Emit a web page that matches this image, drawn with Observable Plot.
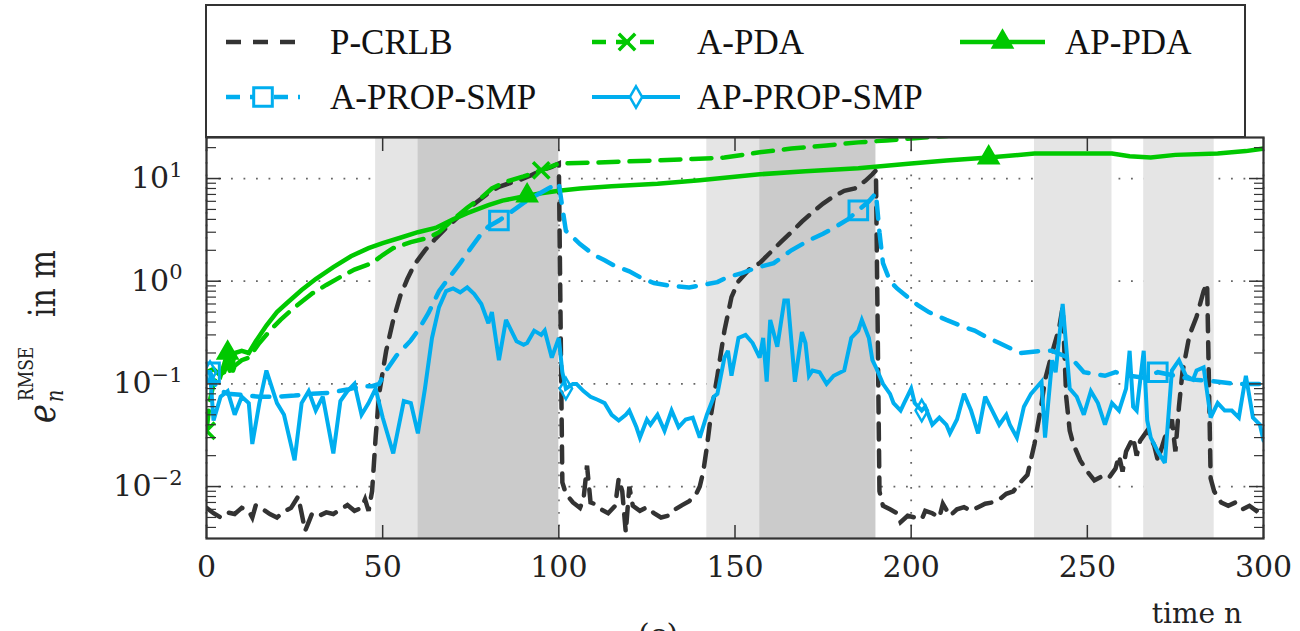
<!DOCTYPE html>
<html>
<head>
<meta charset="utf-8">
<script src="https://cdn.jsdelivr.net/npm/d3@7"></script>
<script src="https://cdn.jsdelivr.net/npm/@observablehq/plot@0.6"></script>
<style>
html,body{margin:0;padding:0;background:#fff;overflow:hidden;}
#chart svg{display:block;}
</style>
</head>
<body>
<div id="chart"></div>
<script>
// ---------- data ----------
const xTicks = [0, 50, 100, 150, 200, 250, 300];
const xTickLabels = ["0", "50", "100", "150", "200", "250", "300"];
const yTicks = [0.01, 0.1, 1, 10];
const yTickLabels = ["10^-2", "10^-1", "10^0", "10^1"];

const bandStart = [48, 60, 142, 157, 235, 266];
const bandEnd   = [60, 100, 157, 190, 257, 286];
const bandShade = ["light", "dark", "light", "dark", "light", "light"];

const seriesNames = ["P-CRLB", "A-PDA", "AP-PDA", "A-PROP-SMP", "AP-PROP-SMP"];

const pCrlb = [[0,0.0062],[2,0.0055],[4,0.0050],[6,0.0056],[8,0.0054],[10,0.0062],[12,0.0058],[13,0.0050],[14,0.0066],[16,0.0060],[18,0.0054],[20,0.0050],[22,0.0057],[24,0.0062],[26,0.0080],[27,0.0055],[28,0.0037],[29,0.0045],[30,0.0055],[32,0.0052],[34,0.0056],[36,0.0054],[38,0.0060],[40,0.0066],[42,0.0058],[44,0.0062],[45,0.0075],[46,0.0058],[47,0.009],[48,0.03],[49,0.08],[50,0.13],[51,0.21],[53,0.42],[55,0.72],[57,1.05],[59,1.45],[62,2.0],[65,2.6],[68,3.3],[71,4.1],[74,5.0],[77,6.0],[80,7.2],[83,8.3],[86,9.0],[89,9.7],[92,10.7],[95,12],[98,13],[100,14],
[101,0.011],[102,0.0085],[104,0.007],[106,0.0062],[107,0.0075],[108,0.016],[109,0.007],[110,0.0068],[112,0.006],[114,0.0055],[116,0.0065],[117,0.012],[118,0.009],[119,0.0036],[120,0.01],[121,0.0065],[123,0.0058],[125,0.0063],[127,0.0055],[129,0.005],[131,0.0052],[133,0.006],[135,0.0066],[137,0.0072],[139,0.0085],[140,0.01],[141,0.014],[142,0.024],[143,0.045],[144,0.075],[145,0.12],[146,0.2],[147,0.33],[149,0.7],[151,1.0],[154,1.3],[157,1.5],[160,1.9],[163,2.4],[166,3.0],[169,3.8],[172,4.7],[175,5.7],[178,6.7],[181,7.6],[184,8.0],[187,9.5],[189,11],[190,12],
[191,0.009],[192,0.0065],[194,0.006],[196,0.0055],[197,0.0045],[199,0.0052],[201,0.005],[203,0.0048],[204,0.0058],[206,0.0055],[208,0.005],[209,0.0068],[211,0.0052],[213,0.006],[215,0.0063],[217,0.0058],[219,0.0063],[221,0.0068],[223,0.007],[225,0.0075],[227,0.0085],[229,0.009],[231,0.011],[233,0.013],[235,0.026],[237,0.064],[238,0.11],[240,0.2],[242,0.35],[243,0.56],[244,0.075],[245,0.035],[246,0.026],[248,0.018],[250,0.014],[252,0.0115],[254,0.0125],[256,0.012],[258,0.015],[259,0.02],[260,0.014],[261,0.022],[263,0.03],[264,0.02],[265,0.028],[267,0.035],[269,0.025],[270,0.018],[272,0.03],[274,0.045],[275,0.022],[276,0.06],[277,0.13],[279,0.3],[281,0.45],[283,0.8],[284,0.95],[285,0.012],[286,0.009],[288,0.007],[290,0.0065],[292,0.007],[294,0.006],[296,0.0065],[298,0.0058],[300,0.0065]];

const aPda = [[0,0.035],[1,0.07],[2,0.1],[3,0.12],[5,0.13],[6,0.16],[7,0.12],[8,0.15],[10,0.17],[12,0.18],[15,0.25],[18,0.33],[21,0.42],[24,0.52],[27,0.63],[30,0.76],[34,0.92],[38,1.1],[42,1.3],[47,1.5],[50,1.8],[53,2.1],[58,2.4],[63,2.65],[66,3.0],[70,4.0],[74,5.2],[78,6.5],[81,8],[85,9.3],[90,10.5],[95,12],[100,14],[110,14.3],[120,14.7],[128,15],[138,15.5],[147,16],[157,18],[166,19.6],[176,21],[185,22.5],[193,23.5],[200,24.5],[210,26],[220,28],[240,30],[270,34],[300,38]];

const apPda = [[0,0.13],[2,0.14],[4,0.12],[6,0.2],[7,0.13],[8,0.2],[10,0.21],[12,0.2],[14,0.26],[17,0.37],[20,0.5],[23,0.62],[27,0.82],[31,1.05],[36,1.37],[41,1.75],[46,2.1],[50,2.35],[55,2.65],[60,3.0],[65,3.3],[70,4.0],[74,4.6],[80,5.5],[84,6.1],[91,6.8],[95,7.2],[100,7.6],[106,8.0],[115,8.4],[128,8.9],[140,9.6],[157,11.0],[170,11.8],[185,12.6],[200,14],[210,15],[222,16],[235,17.5],[245,17.5],[257,17.5],[262,16.5],[268,16],[275,17],[287,17.5],[295,18.5],[300,19.6]];

const aPropSmp = [[0,0.13],[1,0.13],[3,0.09],[6,0.08],[10,0.078],[15,0.075],[20,0.075],[25,0.077],[30,0.08],[35,0.082],[40,0.088],[44,0.095],[47,0.095],[49,0.1],[51,0.135],[54,0.19],[58,0.265],[60,0.33],[63,0.49],[66,0.8],[69,1.1],[72,1.5],[75,2.1],[78,2.9],[80,3.4],[83,3.9],[86,4.6],[90,5.8],[94,7],[97,8],[100,9],[101,5.2],[102,3.1],[106,2.3],[110,1.8],[113,1.6],[116,1.4],[120,1.25],[124,1.05],[127,0.96],[132,0.9],[137,0.87],[141,0.92],[145,0.98],[148,1.1],[152,1.2],[156,1.35],[161,1.5],[166,2.0],[171,2.5],[175,2.9],[178,3.3],[182,4.0],[185,4.9],[188,6.0],[190,7.2],[191,3.0],[192,1.5],[194,1.0],[196,0.85],[199,0.7],[202,0.58],[205,0.5],[210,0.42],[214,0.37],[218,0.33],[221,0.29],[225,0.25],[231,0.2],[237,0.21],[240,0.21],[243,0.19],[246,0.17],[249,0.13],[252,0.125],[255,0.12],[258,0.13],[262,0.12],[266,0.115],[270,0.13],[275,0.12],[280,0.11],[287,0.105],[292,0.1],[297,0.1],[300,0.1]];

const apPropSmp = [[0,0.13],[1,0.13],[2,0.044],[4,0.075],[6,0.085],[8,0.05],[10,0.075],[12,0.065],[13,0.026],[15,0.065],[17,0.135],[20,0.065],[22,0.05],[25,0.018],[27,0.065],[29,0.085],[31,0.055],[33,0.075],[36,0.021],[38,0.068],[40,0.085],[42,0.1],[44,0.05],[46,0.065],[48,0.09],[50,0.047],[53,0.021],[56,0.068],[58,0.065],[60,0.033],[62,0.09],[64,0.28],[66,0.56],[68,0.8],[70,0.85],[72,0.78],[74,0.87],[76,0.75],[78,0.6],[80,0.39],[81,0.5],[83,0.17],[85,0.42],[88,0.26],[90,0.24],[91,0.25],[93,0.33],[95,0.3],[96,0.33],[98,0.18],[100,0.28],[101,0.13],[102,0.09],[104,0.1],[105,0.1],[107,0.085],[109,0.075],[111,0.07],[113,0.065],[115,0.05],[117,0.044],[119,0.05],[120,0.055],[122,0.038],[123,0.03],[125,0.045],[126,0.04],[128,0.05],[130,0.035],[132,0.055],[134,0.038],[136,0.045],[138,0.047],[140,0.03],[142,0.05],[144,0.075],[145,0.08],[147,0.18],[148,0.21],[149,0.12],[151,0.28],[153,0.3],[155,0.25],[157,0.18],[158,0.28],[159,0.105],[160,0.42],[162,0.23],[164,0.65],[165,0.65],[167,0.105],[169,0.32],[170,0.25],[171,0.12],[172,0.135],[174,0.13],[176,0.1],[178,0.12],[181,0.135],[183,0.28],[185,0.33],[186,0.42],[188,0.28],[189,0.17],[190,0.145],[192,0.1],[194,0.08],[195,0.065],[197,0.055],[198,0.065],[200,0.09],[201,0.065],[203,0.055],[204,0.06],[206,0.04],[208,0.047],[210,0.04],[211,0.033],[213,0.045],[215,0.08],[217,0.055],[219,0.033],[221,0.075],[223,0.055],[225,0.04],[227,0.05],[228,0.04],[230,0.03],[232,0.06],[234,0.08],[237,0.105],[238,0.03],[240,0.17],[241,0.13],[243,0.6],[245,0.09],[247,0.075],[249,0.05],[251,0.085],[253,0.065],[255,0.04],[257,0.065],[259,0.055],[261,0.09],[262,0.21],[263,0.06],[264,0.055],[266,0.21],[267,0.044],[268,0.03],[270,0.022],[272,0.017],[274,0.135],[276,0.17],[278,0.12],[280,0.11],[281,0.135],[283,0.145],[285,0.047],[287,0.065],[289,0.055],[291,0.055],[293,0.047],[295,0.12],[297,0.047],[299,0.04],[300,0.028]];

// marker positions (time index n) for each series
const aPdaMarks = [0, 95];
const apPdaMarks = [6, 91, 222];
const aPropMarks = [1, 83, 185, 270];
const apPropMarks = [1, 102, 203];

// ---------- styles ----------
const GREEN = "#00c800", CYAN = "#00aeef", DARK = "#333333";
const FONT = "'DejaVu Serif', serif";
const LEGEND_FONT = "'Liberation Serif', 'Times New Roman', serif";
const styles = {
  "P-CRLB":      {data: pCrlb,     color: DARK,  dash: "16,11", width: 4.5, marks: [],          symbol: null},
  "A-PDA":       {data: aPda,      color: GREEN, dash: "20,11", width: 4.5, marks: aPdaMarks,   symbol: "times"},
  "AP-PDA":      {data: apPda,     color: GREEN, dash: null,    width: 4.5, marks: apPdaMarks,  symbol: "triangle"},
  "A-PROP-SMP":  {data: aPropSmp,  color: CYAN,  dash: "17,12", width: 4.5, marks: aPropMarks,  symbol: "square"},
  "AP-PROP-SMP": {data: apPropSmp, color: CYAN,  dash: null,    width: 4,   marks: apPropMarks, symbol: "diamond"}
};
const symbolStyle = {
  times:    {r: 7.5, fill: "none", sw: 3.5},
  triangle: {r: 7.5, fill: "fill", sw: 2},
  square:   {r: 10.5, fill: "none", sw: 3},
  diamond:  {r: 6.5, fill: "none", sw: 2.5}
};

const rows = seriesNames.flatMap(name => styles[name].data.map(([n, v]) => ({name, n, v})));
const markerRows = seriesNames.flatMap(name => {
  const s = styles[name];
  return s.marks.map(m => {
    const p = s.data.find(d => d[0] === m);
    return {name, n: p[0], v: p[1]};
  });
});

const yMinor = [];
for (let k = -3; k <= 1; k++) for (let m = 2; m <= 9; m++) {
  const v = m * Math.pow(10, k);
  if (v > 0.00312 && v < 25.1) yMinor.push(v);
}

const bandIdx = bandStart.map((_, i) => i);

const lineMarks = seriesNames.map(name => {
  const s = styles[name];
  return Plot.line(rows.filter(r => r.name === name), {
    x: "n", y: "v", stroke: s.color, strokeWidth: s.width,
    strokeDasharray: s.dash || undefined, strokeLinejoin: "miter", strokeMiterlimit: 3,
    curve: "linear", clip: true
  });
});
const dotMarks = seriesNames.filter(n => styles[n].symbol).map(name => {
  const s = styles[name], ss = symbolStyle[s.symbol];
  return Plot.dot(markerRows.filter(r => r.name === name), {
    x: "n", y: "v", symbol: () => s.symbol, r: ss.r,
    stroke: s.color, strokeWidth: ss.sw, fill: ss.fill === "fill" ? s.color : "none", clip: true
  });
});

const yLab = d => yTickLabels[yTicks.indexOf(d)];
const xLab = d => xTickLabels[xTicks.indexOf(d)];
const tickCol = "#333";

const svgEl = Plot.plot({
  width: 1300, height: 631,
  marginTop: 137, marginRight: 37, marginBottom: 93, marginLeft: 206,
  style: {fontFamily: FONT, fontSize: "30px", color: "#222", background: "#fff"},
  x: {domain: [0, 300]},
  y: {type: "log", domain: [0.00312, 25.1]},
  marks: [
    Plot.gridY(yTicks, {stroke: "#666", strokeOpacity: 1, strokeWidth: 1.8, strokeDasharray: "1.8,10.7"}),
    Plot.gridX(xTicks, {stroke: "#666", strokeOpacity: 1, strokeWidth: 1.8, strokeDasharray: "1.8,10.7"}),
    Plot.rect(bandIdx, {x1: i => bandStart[i], x2: i => bandEnd[i], fill: i => bandShade[i] === "dark" ? "#cbcbcb" : "#e5e5e5"}),
    ...lineMarks,
    ...dotMarks,
    Plot.axisX(xTicks, {anchor: "bottom", tickSize: 0, tickPadding: 17, tickFormat: xLab, label: null}),
    Plot.axisX(xTicks, {anchor: "bottom", tickSize: -13, fill: "none", stroke: tickCol, strokeWidth: 1.5, label: null}),
    Plot.axisX(xTicks, {anchor: "top", tickSize: -13, fill: "none", stroke: tickCol, strokeWidth: 1.5, label: null}),
    Plot.axisY(yTicks, {anchor: "left", tickSize: 0, tickPadding: 24, tickFormat: yLab, label: null}),
    Plot.axisY(yTicks, {anchor: "left", tickSize: -15, fill: "none", stroke: tickCol, strokeWidth: 1.5, label: null}),
    Plot.axisY(yMinor, {anchor: "left", tickSize: -10, fill: "none", stroke: tickCol, strokeWidth: 1.2, label: null}),
    Plot.axisY(yTicks, {anchor: "right", tickSize: -15, fill: "none", stroke: tickCol, strokeWidth: 1.5, label: null}),
    Plot.axisY(yMinor, {anchor: "right", tickSize: -10, fill: "none", stroke: tickCol, strokeWidth: 1.2, label: null}),
    Plot.frame({stroke: "#333", strokeWidth: 2.2})
  ]
});
document.getElementById("chart").appendChild(svgEl);

const svg = d3.select(svgEl);

// superscript tick labels
svg.selectAll('g[aria-label="y-axis tick label"] text').each(function() {
  const t = this.textContent;
  const parts = t.split("^");
  if (parts.length < 2) return;
  const s = d3.select(this);
  s.text(parts[0]);
  s.append("tspan").attr("dy", "-0.55em").attr("font-size", "21px").text(parts[1].replace("-", "\u2212"));
});

// y label
const yl = svg.append("text")
  .attr("transform", "translate(55,423) rotate(-90) scale(1,1.25)")
  .attr("text-anchor", "start")
  .attr("font-family", FONT).attr("font-size", 30).attr("fill", "#222");
yl.append("tspan").attr("font-style", "italic").attr("x", 0).attr("font-size", 32).text("e");
yl.append("tspan").attr("font-style", "italic").attr("font-size", 19).attr("x", 21).attr("dy", 6).text("n");
yl.append("tspan").attr("font-size", 17).attr("x", 22).attr("dy", -23.6).text("RMSE");
yl.append("tspan").attr("x", 106).attr("dy", 17.6).text("in m");

// x label
svg.append("text").attr("x", 1242).attr("y", 623).attr("text-anchor", "end")
  .attr("font-family", FONT).attr("font-size", 28).attr("fill", "#222").text("time n");
svg.append("text").attr("x", 658).attr("y", 645).attr("text-anchor", "middle")
  .attr("font-family", FONT).attr("font-size", 30).attr("fill", "#222").text("(c)");

// legend
const lg = svg.append("g");
lg.append("rect").attr("x", 206).attr("y", 5).attr("width", 1039).attr("height", 132)
  .attr("fill", "#fff").attr("stroke", "#333").attr("stroke-width", 2);
const legendPos = {
  "P-CRLB":      {x1: 226, x2: 300, y: 42, tx: 330},
  "A-PDA":       {x1: 592, x2: 662, y: 42, tx: 697},
  "AP-PDA":      {x1: 960, x2: 1045, y: 42, tx: 1065},
  "A-PROP-SMP":  {x1: 226, x2: 300, y: 97, tx: 330},
  "AP-PROP-SMP": {x1: 592, x2: 680, y: 97, tx: 697}
};
const symType = {times: d3.symbolTimes, triangle: d3.symbolTriangle, square: d3.symbolSquare, diamond: d3.symbolDiamond};
seriesNames.forEach(name => {
  const s = styles[name], p = legendPos[name];
  lg.append("line").attr("x1", p.x1).attr("x2", p.x2).attr("y1", p.y).attr("y2", p.y)
    .attr("stroke", s.color).attr("stroke-width", s.width)
    .attr("stroke-dasharray", s.dash ? (name === "P-CRLB" ? "15,12" : "14,10") : null);
  if (s.symbol) {
    const ss = symbolStyle[s.symbol];
    const cx = (p.x1 + p.x2) / 2;
    lg.append("path").attr("d", d3.symbol(symType[s.symbol], ss.r * ss.r * Math.PI)())
      .attr("transform", `translate(${cx},${p.y})`)
      .attr("fill", ss.fill === "fill" ? s.color : "#fff").attr("stroke", s.color).attr("stroke-width", ss.sw);
  }
  lg.append("text").attr("x", p.tx).attr("y", p.y).attr("dy", "0.35em").attr("text-anchor", "start")
    .attr("font-family", LEGEND_FONT).attr("font-size", 35).attr("fill", "#111").text(name);
});
</script>
</body>
</html>
